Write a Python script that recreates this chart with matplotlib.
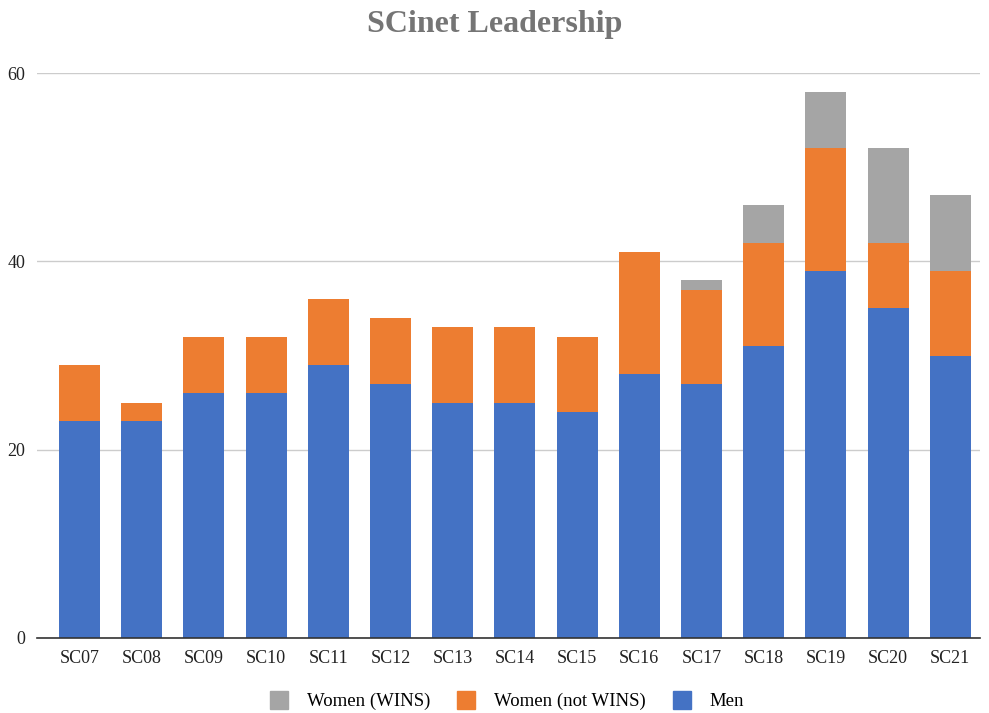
import matplotlib
matplotlib.use("Agg")
import matplotlib.pyplot as plt
from matplotlib.lines import Line2D
import numpy as np

categories = ["SC07", "SC08", "SC09", "SC10", "SC11", "SC12", "SC13", "SC14",
              "SC15", "SC16", "SC17", "SC18", "SC19", "SC20", "SC21"]
men = [23, 23, 26, 26, 29, 27, 25, 25, 24, 28, 27, 31, 39, 35, 30]
women_not_wins = [6, 2, 6, 6, 7, 7, 8, 8, 8, 13, 10, 11, 13, 7, 9]
women_wins = [0, 0, 0, 0, 0, 0, 0, 0, 0, 0, 1, 4, 6, 10, 8]
yticks = [0, 20, 40, 60]

c_men = "#4472c4"
c_nw = "#ed7d31"
c_w = "#a5a5a5"

plt.rcParams['font.family'] = ['Liberation Serif', 'DejaVu Serif']

fig = plt.figure(figsize=(9.89, 7.13), dpi=100)
ax = fig.add_axes([0.037, 0.1052, 0.954, 0.7924])

x = np.arange(len(categories))
men_a = np.array(men)
nw_a = np.array(women_not_wins)
w_a = np.array(women_wins)
width = 0.66
ax.bar(x, men_a, width, color=c_men, zorder=3)
ax.bar(x, nw_a, width, bottom=men_a, color=c_nw, zorder=3)
ax.bar(x, w_a, width, bottom=men_a + nw_a, color=c_w, zorder=3)

ax.set_xlim(-0.69, 14.48)
ax.set_ylim(0, 60)
ax.set_yticks(yticks)
ax.set_yticklabels([str(v) for v in yticks])
ax.set_xticks(x)
ax.set_xticklabels(categories)
ax.tick_params(axis='both', length=0, labelsize=13, colors='#222222')
ax.tick_params(axis='x', pad=9)
ax.tick_params(axis='y', pad=8)
ax.grid(axis='y', color='#cccccc', linewidth=1, zorder=0)
for s in ['top', 'right', 'left']:
    ax.spines[s].set_visible(False)
ax.spines['bottom'].set_color('#333333')
ax.spines['bottom'].set_linewidth(1.2)
ax.spines['bottom'].set_zorder(4)

fig.text(0.5, 0.966, "SCinet Leadership", ha='center', va='center',
         fontsize=23, fontweight='bold', color='#757575')

handles = [Line2D([], [], marker='s', linestyle='none', markersize=13, color=c)
           for c in [c_w, c_nw, c_men]]
fig.legend(handles, ["Women (WINS)", "Women (not WINS)", "Men"],
           loc='center', bbox_to_anchor=(0.508, 0.016), ncol=3, frameon=False,
           fontsize=13.5, handletextpad=0.5, columnspacing=0.9)

fig.savefig("out.png", dpi=100)
